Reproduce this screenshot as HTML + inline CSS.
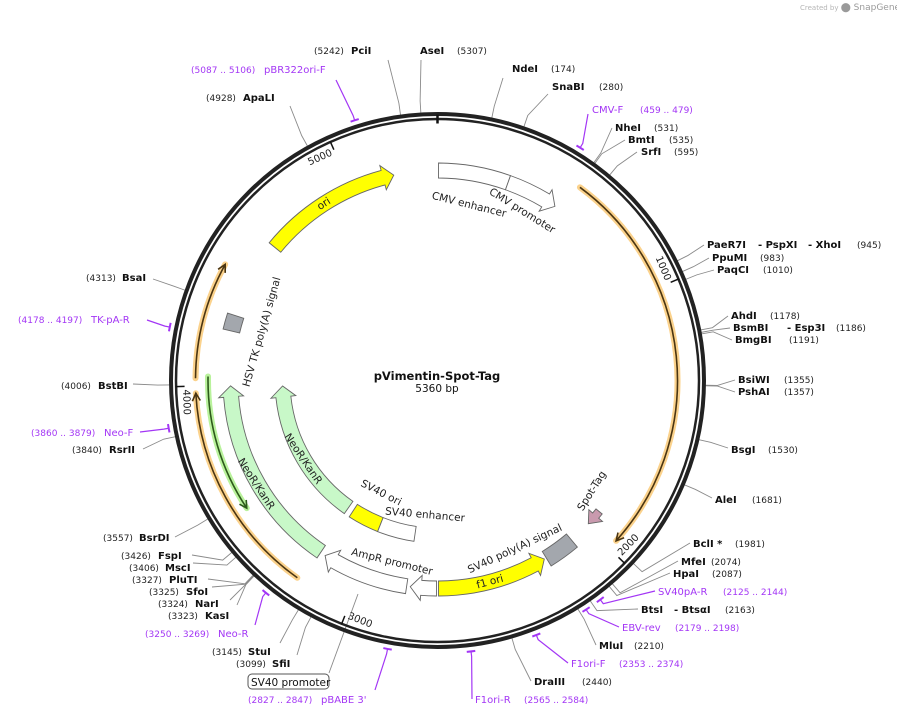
<!DOCTYPE html>
<html><head><meta charset="utf-8"><style>
html,body{margin:0;padding:0;background:#fff;width:897px;height:716px;overflow:hidden}
svg{display:block;font-family:"DejaVu Sans","Liberation Sans",sans-serif}
.nm{font-weight:bold;font-size:10px;fill:#111}
.nu{font-size:9px;fill:#222}
.pr{font-size:10px;fill:#a336f5}
.prn{font-size:9px;fill:#a336f5}
.fl{font-size:10.5px;fill:#222}
</style></head><body>
<svg id="map" width="897" height="716" viewBox="0 0 897 716" xmlns="http://www.w3.org/2000/svg">
<text x="800" y="10" font-size="7" fill="#b5b5b5">Created by <tspan font-size="9" fill="#9a9a9a">⬤ SnapGene</tspan></text>
<g id="lines"></g><g id="ring"></g><g id="feats"></g><g id="labels"></g>
<text x="437" y="380" text-anchor="middle" font-weight="bold" font-size="11.5" fill="#111">pVimentin-Spot-Tag</text>
<text x="437" y="392" text-anchor="middle" font-size="10.5" fill="#111">5360 bp</text>
<rect x="248" y="674" width="81" height="15" rx="4" fill="#fff" stroke="#555"/>
<text x="251" y="686" font-size="10.5" fill="#111">SV40 promoter</text>
</svg>
<script>
const NS="http://www.w3.org/2000/svg";
const cx=437.5, cy=380.5, total=5360;
// feature data (bp)
const featNames=["cmv-enhancer","cmv-promoter","spot-tag","sv40-polya-signal","f1-ori","ampr-promoter-a","ampr-promoter-b","neor-kanr-outer","hsv-tk-polya","ori","neor-kanr-inner","sv40-ori","sv40-enhancer"];
const featStart=[4,292,1921,2084,2220,2684,2807,3189,4221,4605,3201,3002,2804];
const featEnd=[292,506,1988,2211,2676,2792,3167,3998,4285,5181,3990,3170,3002];
const featR=[210,210,208,209,208,208,208,207,212,210,155,155,155];
const featDir=[0,1,1,0,-1,1,1,1,0,1,1,0,0];
const featFill=["#fff","#fff","#c99aae","#a3a7ad","#ffff00","#fff","#fff","#c8f8c8","#a3a7ad","#ffff00","#c8f8c8","#ffff00","#fff"];
// thin primer-like arcs
const arcStart=[542,3207,4028,3517];
const arcEnd=[1964,3975,4447,4035];
const arcR=[240,242,242,229.5];
const arcDir=[1,1,1,-1];
const arcHalo=["#fbd28c","#fbd28c","#fbd28c","#b9f29c"];
const arcCore=["#4a3512","#4a3512","#4a3512","#2d5a1b"];
const tickBp=[1000,2000,3000,4000,5000];
// labels
const lblKind=["e","e","e","e","p","e","e","e","e","e","e","e","e","e","e","e","e","e","e","e","e","p","e","p","e","p","e","p","p","e","e","p","e","e","e","e","e","e","e","e","p","e","p","e","e","p"];
const lblName=["PciI","AseI","NdeI","SnaBI","CMV-F","NheI","BmtI","SrfI","PaeR7I|- PspXI|- XhoI","PpuMI","PaqCI","AhdI","BsmBI|- Esp3I","BmgBI","BsiWI","PshAI","BsgI","AleI","BclI *","MfeI","HpaI","SV40pA-R","BtsI|- BtsαI","EBV-rev","MluI","F1ori-F","DraIII","F1ori-R","pBABE 3'","SfiI","StuI","Neo-R","KasI","NarI","SfoI","PluTI","MscI","FspI","BsrDI","RsrII","Neo-F","BstBI","TK-pA-R","BsaI","ApaLI","pBR322ori-F"];
const lblNum=["(5242)","(5307)","(174)","(280)","(459 .. 479)","(531)","(535)","(595)","(945)","(983)","(1010)","(1178)","(1186)","(1191)","(1355)","(1357)","(1530)","(1681)","(1981)","(2074)","(2087)","(2125 .. 2144)","(2163)","(2179 .. 2198)","(2210)","(2353 .. 2374)","(2440)","(2565 .. 2584)","(2827 .. 2847)","(3099)","(3145)","(3250 .. 3269)","(3323)","(3324)","(3325)","(3327)","(3406)","(3426)","(3557)","(3840)","(3860 .. 3879)","(4006)","(4178 .. 4197)","(4313)","(4928)","(5087 .. 5106)"];
const lblBp=[5242,5307,174,280,469,531,535,595,945,983,1010,1178,1186,1191,1355,1357,1530,1681,1981,2074,2087,2135,2163,2189,2210,2364,2440,2575,2837,3099,3145,3260,3323,3324,3325,3327,3406,3426,3557,3840,3870,4006,4188,4313,4928,5097];
const lblNameX=[351,420,512,552,592,615,628,641,707,712,717,731,733,735,738,738,731,715,693,681,673,658,641,622,599,571,534,475,321,272,248,218,205,195,186,169,165,158,139,109,104,98,91,122,243,264];
const lblNumX=[314,457,551,599,640,654,669,674,857,760,763,770,836,789,784,784,768,752,735,711,712,723,725,675,634,619,582,524,248,236,212,145,168,158,149,132,129,121,103,72,31,61,18,86,206,191];
const lblY=[54,54,72,90,113,131,143,155,248,261,273,319,331,343,383,395,453,503,547,565,577,595,613,631,649,667,685,703,703,667,655,637,619,607,595,583,571,559,541,453,436,389,323,281,101,73];
const lblAX=[388,421,503,548,588,612,625,637,704,709,714,728,730,732,735,735,728,712,690,678,670,655,638,619,596,568,531,472,375,297,280,255,237,230,212,208,193,192,175,143,140,133,147,153,290,336];
const lblAY=[60,60,78,94,114,128,140,152,245,258,270,316,328,340,380,392,448,498,543,561,573,591,609,627,645,663,681,699,690,655,643,625,605,600,587,579,563,555,537,449,432,384,320,279,106,80];
const partX={8:[707,758,808],12:[733,787],22:[641,674]};
// curved feature captions
const capText=["CMV enhancer","CMV promoter","ori","HSV TK poly(A) signal","NeoR/KanR","NeoR/KanR","SV40 ori","SV40 enhancer","AmpR promoter","SV40 poly(A) signal","f1 ori","Spot-Tag"];
const capX=[469,522,324,262,256,303,381,425,392,515,490,592];
const capY=[205,211,204,332,484,459,493,515,562,549,582,491];
const capRot=[14,32,-33,-74,57,56,27,5,14,-25,-15,-58];

const ang=bp=>bp/total*360;
const pt=(r,a)=>{const t=a*Math.PI/180;return [(cx+r*Math.sin(t)).toFixed(2),(cy-r*Math.cos(t)).toFixed(2)];};
const P=(r,a)=>pt(r,a).join(",");
function mk(tag,parent,attrs){const e=document.createElementNS(NS,tag);for(const k in attrs)e.setAttribute(k,attrs[k]);(typeof parent==="string"?document.getElementById(parent):parent).appendChild(e);return e;}

// ring
let c1=mk("circle","ring",{cx:cx,cy:cy,r:266.5,fill:"none",stroke:"#222","stroke-width":4});


let c2=mk("circle","ring",{cx:cx,cy:cy,r:261.5,fill:"none",stroke:"#222","stroke-width":2.5});


let t0=mk("line","ring",{x1:cx,y1:cy-257,x2:cx,y2:cy-266,stroke:"#111","stroke-width":2.5});


tickBp.forEach((b)=>{const a=ang(b);const p1=pt(253,a),p2=pt(262,a);
 const l=mk("line","ring",{x1:p1[0],y1:p1[1],x2:p2[0],y2:p2[1],stroke:"#111","stroke-width":1.5});
 
 
 const pc=pt(252,a-3.6);let rot=(a<90)?a:(a<=270?a-180:a-360);
 const t=mk("text","ring",{x:pc[0],y:pc[1],"text-anchor":"middle","dominant-baseline":"middle","font-size":"10",fill:"#222",transform:`rotate(${rot.toFixed(1)} ${pc[0]} ${pc[1]})`});
 t.textContent=String(b);
 
 
});

// features
function shape(r,w,a1,a2,dir){
 const hw=w/2+5, hd=11/r*180/Math.PI, ro=r+w/2, ri=r-w/2;
 const lg=(x)=>x>180?1:0;
 if(dir===1){const e=a2-hd;return `M${P(ro,a1)} A${ro},${ro} 0 ${lg(e-a1)} 1 ${P(ro,e)} L${P(r+hw,e)} L${P(r,a2)} L${P(r-hw,e)} L${P(ri,e)} A${ri},${ri} 0 ${lg(e-a1)} 0 ${P(ri,a1)} Z`;}
 if(dir===-1){const s=a1+hd;return `M${P(r,a1)} L${P(r+hw,s)} L${P(ro,s)} A${ro},${ro} 0 ${lg(a2-s)} 1 ${P(ro,a2)} L${P(ri,a2)} A${ri},${ri} 0 ${lg(a2-s)} 0 ${P(ri,s)} L${P(r-hw,s)} Z`;}
 return `M${P(ro,a1)} A${ro},${ro} 0 ${lg(a2-a1)} 1 ${P(ro,a2)} L${P(ri,a2)} A${ri},${ri} 0 ${lg(a2-a1)} 0 ${P(ri,a1)} Z`;
}
featStart.forEach((s,i)=>{
 const w=(featFill[i]==="#a3a7ad")?17:(i===2?8:15);
 const p=mk("path","feats",{d:shape(featR[i],w,ang(s),ang(featEnd[i]),featDir[i]),fill:featFill[i],stroke:"#666","stroke-width":0.9});
 
 
});
arcStart.forEach((s,i)=>{
 const a1=ang(s),a2=ang(arcEnd[i]),r=arcR[i];
 const d=`M${P(r,a1)} A${r},${r} 0 ${a2-a1>180?1:0} 1 ${P(r,a2)}`;
 const h=mk("path","feats",{d:d,fill:"none",stroke:arcHalo[i],"stroke-width":6,"stroke-linecap":"round"});
 
 
 const c=mk("path","feats",{d:d,fill:"none",stroke:arcCore[i],"stroke-width":1.6});
 
 
 const tip=arcDir[i]===1?a2:a1, back=arcDir[i]===1?a2-1.8:a1+1.8;
 const hp=mk("path","feats",{d:`M${P(r+4,back)} L${P(r,tip)} L${P(r-4,back)}`,fill:"none",stroke:arcCore[i],"stroke-width":1.6});
 
 
});
capText.forEach((t,i)=>{
 const e=mk("text","feats",{x:capX[i],y:capY[i],class:"fl","text-anchor":"middle","dominant-baseline":"middle",transform:`rotate(${capRot[i]} ${capX[i]} ${capY[i]})`});
 e.textContent=t;
 
 
});

// labels and leader lines
lblName.forEach((n,i)=>{
 const prim=lblKind[i]==="p";
 const nt=mk("text","labels",{x:lblNameX[i],y:lblY[i],class:prim?"pr":"nm"});
 const parts=n.split("|");
 if(parts.length===1){nt.textContent=n;}
 else{parts.forEach((s,j)=>{const ts=mk("tspan",nt,{x:partX[i][j]});ts.textContent=s;});}
 
 
 const ut=mk("text","labels",{x:lblNumX[i],y:lblY[i],class:prim?"prn":"nu"});
 ut.textContent=lblNum[i];
 
 
 const a=ang(lblBp[i]);
 const col=prim?"#a336f5":"#8a8a8a";
 const r0=prim?273:268;
 const p0=pt(r0,a),p1=pt(prim?278:280,a);
 const ln=mk("polyline","lines",{points:`${p0} ${p1} ${lblAX[i]},${lblAY[i]}`,fill:"none",stroke:col,"stroke-width":prim?1.2:0.9});
 
 
 if(prim){
  const m=mk("path","ring",{d:`M${P(273,a-0.9)} A273,273 0 0 1 ${P(273,a+0.9)}`,fill:"none",stroke:col,"stroke-width":2});
  
  
 }
});
const sl=mk("line","lines",{x1:329,y1:673,x2:358,y2:594,stroke:"#8a8a8a","stroke-width":0.9});


</script>
</body></html>
